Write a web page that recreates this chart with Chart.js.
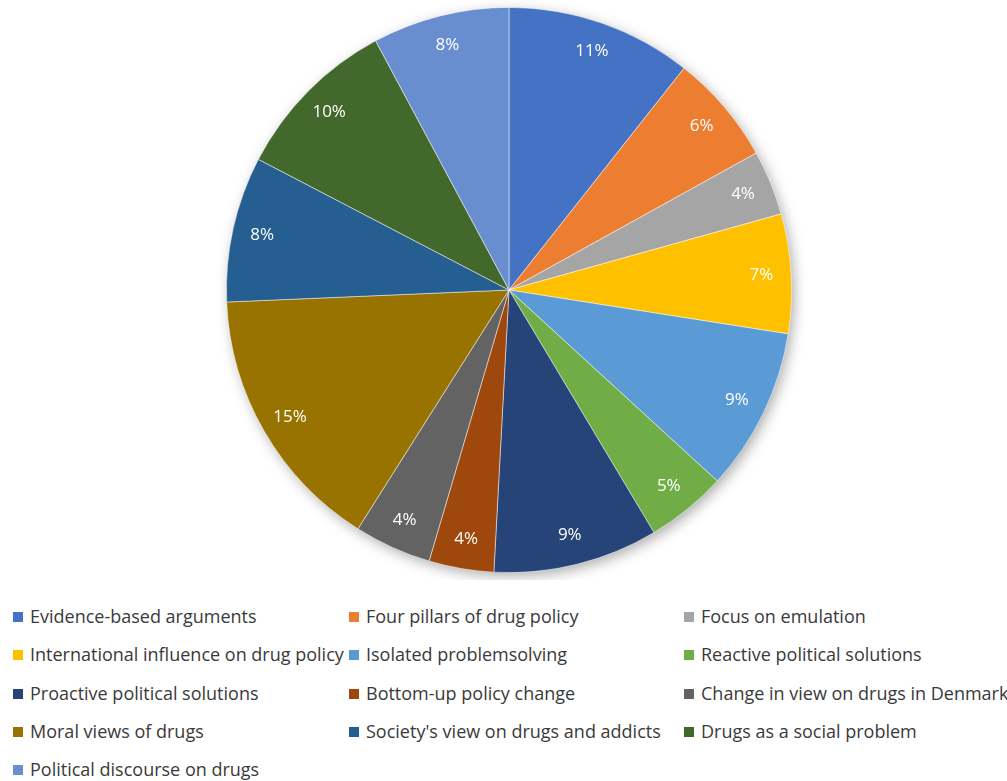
<!DOCTYPE html>
<html>
<head>
<meta charset="utf-8">
<script src="https://cdn.jsdelivr.net/npm/chart.js@4"></script>
<style>
	body { margin: 0; background: #fff; }
	#wrap { position: relative; width: 1007px; height: 781px; }
	#chartBox { position: absolute; left: 0; top: 0; width: 1007px; height: 580px; }
	.item { position: absolute; font-family: "Open Sans", sans-serif; font-size: 18px; color: #3a3a3a; white-space: nowrap; line-height: 20px; letter-spacing: 0px; }
	.item span { position: absolute; width: 10px; height: 10px; left: -17px; top: 6px; }
</style>
</head>
<body>
<div id="wrap">
	<div id="chartBox"><canvas id="pieChart"></canvas></div>
	<div id="legend"></div>
</div>
<script>
	// 항목 이름
	let categories = [
		'Evidence-based arguments', 'Four pillars of drug policy', 'Focus on emulation',
		'International influence on drug policy', 'Isolated problemsolving', 'Reactive political solutions',
		'Proactive political solutions', 'Bottom-up policy change', 'Change in view on drugs in Denmark',
		'Moral views of drugs', "Society's view on drugs and addicts", 'Drugs as a social problem',
		'Political discourse on drugs'
	];
	// 비율 (%)
	let shares = [10.6, 6.3, 3.7, 6.8, 9.3, 4.6, 9.4, 3.7, 4.4, 15.3, 8.3, 9.5, 7.8];
	// 슬라이스 색상
	let colors = ['#4472C4', '#ED7D31', '#A5A5A5', '#FFC000', '#5B9BD5', '#70AD47',
		'#264478', '#9E480E', '#636363', '#997300', '#255E91', '#43682B', '#698ED0'];

	// 파이 뒤 그림자
	const shadowPlugin = {
		id: 'shadow',
		beforeDatasetsDraw(chart) {
			let arc = chart.getDatasetMeta(0).data[0];
			if (!arc) return;
			let ctx = chart.ctx;
			ctx.save();
			ctx.shadowColor = 'rgba(0,0,0,0.35)';
			ctx.shadowBlur = 14;
			ctx.shadowOffsetX = 3;
			ctx.shadowOffsetY = 4;
			ctx.fillStyle = '#fff';
			ctx.beginPath();
			ctx.arc(arc.x, arc.y, arc.outerRadius - 1, 0, Math.PI * 2);
			ctx.fill();
			ctx.restore();
		}
	};

	// 퍼센트 라벨
	const labelPlugin = {
		id: 'pctLabels',
		afterDatasetsDraw(chart) {
			let ctx = chart.ctx;
			let meta = chart.getDatasetMeta(0);
			ctx.save();
			ctx.fillStyle = '#fff';
			ctx.font = '17px "Open Sans", sans-serif';
			ctx.textAlign = 'center';
			ctx.textBaseline = 'middle';
			meta.data.forEach(function(arc, i) {
				let mid = (arc.startAngle + arc.endAngle) / 2;
				let r = arc.outerRadius * 0.895;
				ctx.fillText(Math.round(shares[i]) + '%', arc.x + Math.cos(mid) * r, arc.y + Math.sin(mid) * r);
			});
			ctx.restore();
		}
	};

	new Chart(document.getElementById('pieChart'), {
		type: 'pie',
		data: {
			labels: categories,
			datasets: [{
				data: shares,
				backgroundColor: colors,
				borderColor: 'rgba(255,255,255,0.6)',
				borderWidth: 0.8
			}]
		},
		options: {
			responsive: true,
			maintainAspectRatio: false,
			animation: false,
			layout: { padding: { left: 11, right: 0, top: 7, bottom: 7 } },
			plugins: {
				legend: { display: false },
				tooltip: { enabled: false }
			}
		},
		plugins: [shadowPlugin, labelPlugin]
	});

	// 범례 (3열)
	let colX = [30, 366, 701];
	let legend = document.getElementById('legend');
	categories.forEach(function(name, i) {
		let div = document.createElement('div');
		div.className = 'item';
		div.style.left = colX[i % 3] + 'px';
		div.style.top = (606 + Math.floor(i / 3) * 38.3) + 'px';
		let box = document.createElement('span');
		box.style.background = colors[i];
		div.appendChild(box);
		div.appendChild(document.createTextNode(name));
		legend.appendChild(div);
	});
</script>
</body>
</html>
